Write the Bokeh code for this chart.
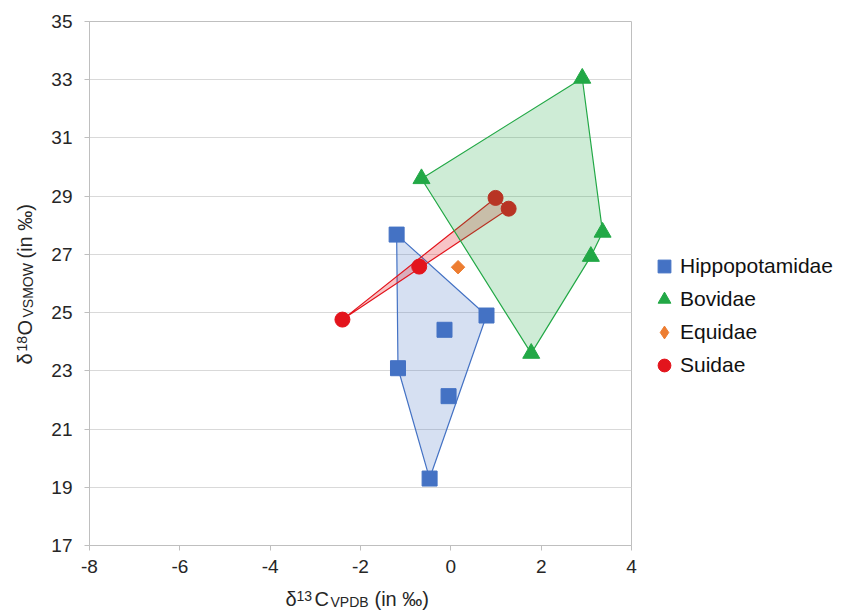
import math
from bokeh.plotting import figure
from bokeh.layouts import column, row
from bokeh.models import FixedTicker, Label, Legend, LegendItem, Range1d
from bokeh.embed import file_html
from bokeh.resources import INLINE

# ---- data ----
hippo_x = [-1.20, 0.79, -0.14, -1.17, -0.05, -0.47]
hippo_y = [27.68, 24.90, 24.41, 23.09, 22.13, 19.30]
bov_x = [-0.65, 2.91, 3.36, 3.10, 1.78]
bov_y = [29.60, 33.05, 27.76, 26.93, 23.60]
equi_x = [0.16]
equi_y = [26.56]
suid_x = [-2.40, -0.70, 0.99, 1.28]
suid_y = [24.76, 26.58, 28.94, 28.57]

x_ticks = [-8, -6, -4, -2, 0, 2, 4]
y_ticks = [17, 19, 21, 23, 25, 27, 29, 31, 33, 35]
labels = ["Hippopotamidae", "Bovidae", "Equidae", "Suidae"]

BLUE = "#4472C4"
GREEN = "#22A846"
ORANGE = "#ED7D31"
RED = "#E3141C"
GRAY = "#BFBFBF"
TXT = "#262626"
FONT = "Liberation Sans"


def hull(xs, ys):
    pts = sorted(set(zip(xs, ys)))

    def cross(o, a, b):
        return (a[0] - o[0]) * (b[1] - o[1]) - (a[1] - o[1]) * (b[0] - o[0])
    lower, upper = [], []
    for q in pts:
        while len(lower) >= 2 and cross(lower[-2], lower[-1], q) <= 0:
            lower.pop()
        lower.append(q)
    for q in reversed(pts):
        while len(upper) >= 2 and cross(upper[-2], upper[-1], q) <= 0:
            upper.pop()
        upper.append(q)
    h = lower[:-1] + upper[:-1]
    return [q[0] for q in h], [q[1] for q in h]


YW = 44          # width of the y-title strip
BOTTOM = 40
MAIN_H = 21 + 524 + BOTTOM
XH = 28          # height of the x-title strip

p = figure(frame_width=542, frame_height=524,
           x_range=(-8, 4), y_range=(17, 35),
           output_backend="svg", toolbar_location=None,
           min_border_left=45, min_border_right=218,
           min_border_top=21, min_border_bottom=BOTTOM,
           background_fill_color="white", border_fill_color="white")

p.outline_line_color = GRAY
p.outline_line_width = 1
p.xgrid.visible = False
p.ygrid.ticker = FixedTicker(ticks=y_ticks)
p.ygrid.grid_line_color = "#D9D9D9"
p.ygrid.grid_line_width = 1

for ax, ticks in ((p.xaxis, x_ticks), (p.yaxis, y_ticks)):
    ax.ticker = FixedTicker(ticks=ticks)
    ax.major_label_overrides = {t: str(t) for t in ticks}
    ax.minor_tick_line_color = None
    ax.major_tick_in = 0
    ax.major_tick_out = 5
    ax.major_tick_line_color = GRAY
    ax.axis_line_color = GRAY
    ax.major_label_text_font = FONT
    ax.major_label_text_font_size = "19px"
    ax.major_label_text_color = TXT
    ax.axis_label = None
    ax.axis_label_standoff = 0
p.yaxis.major_label_standoff = 12
p.xaxis.major_label_standoff = 9

# polygons (convex hulls)
hx, hy = hull(hippo_x, hippo_y)
p.patch(hx, hy, fill_color=BLUE, fill_alpha=0.22, line_color=BLUE, line_width=1.2)
sx, sy = hull(suid_x, suid_y)
p.patch(sx, sy, fill_color=RED, fill_alpha=0.25, line_color=RED, line_width=1.2)

r_hippo = p.scatter(hippo_x, hippo_y, marker="square", size=15, fill_color=BLUE, line_color=BLUE)
r_suid = p.scatter(suid_x, suid_y, marker="circle", size=15, fill_color=RED, line_color=RED)
r_equi_leg = p.scatter(equi_x, equi_y, marker="diamond", size=10,
                       fill_color=ORANGE, line_color=ORANGE)
p.scatter(equi_x, equi_y, marker="square", angle=math.pi / 4, size=9.5,
          fill_color=ORANGE, line_color=ORANGE)

bx, by = hull(bov_x, bov_y)
p.patch(bx, by, fill_color=GREEN, fill_alpha=0.22, line_color=GREEN, line_width=1.2)
r_bov = p.scatter(bov_x, bov_y, marker="triangle", size=17, fill_color=GREEN, line_color=GREEN)

legend = Legend(items=[LegendItem(label=l, renderers=[r]) for l, r in
                       zip(labels, [r_hippo, r_bov, r_equi_leg, r_suid])],
                location=(17, 164), orientation="vertical",
                glyph_width=32, glyph_height=32, label_height=32, spacing=1,
                padding=0, margin=0, label_standoff=-6,
                border_line_color=None, background_fill_alpha=0,
                label_text_font=FONT, label_text_font_size="21px",
                label_text_color="#111111")
p.add_layout(legend, "right")


def strip(w, h):
    f = figure(width=w, height=h, x_range=Range1d(0, 1), y_range=Range1d(0, 1),
               x_axis_type=None, y_axis_type=None, output_backend="svg",
               toolbar_location=None, min_border=0, outline_line_color=None,
               background_fill_color="white", border_fill_color="white")
    f.grid.visible = False
    return f


def piece(f, text, x, y, size, angle=0.0):
    f.add_layout(Label(x=x, y=y, x_units="screen", y_units="screen", text=text,
                       angle=angle, text_font=FONT, text_font_size=size,
                       text_color=TXT, text_align="left",
                       text_baseline="alphabetic"))


total_w = YW + 45 + 542 + 218

# x title strip (page x; baseline measured from strip bottom)
xs_ = strip(total_w, XH)
piece(xs_, "δ", 285, 15, "20px")
piece(xs_, "13", 296, 18, "14px")
piece(xs_, "C", 314, 15, "20px")
piece(xs_, "VPDB", 330, 12, "14px")
piece(xs_, "(in ‰)", 374, 15, "20px")

# y title strip (rotated; its frame is aligned with the main frame: bottom at 545)
ys_ = strip(YW, MAIN_H)
a = math.pi / 2
piece(ys_, "δ", 24, 181, "20px", a)
piece(ys_, "18", 21, 194, "14px", a)
piece(ys_, "O", 24, 210, "20px", a)
piece(ys_, "VSMOW", 27, 228, "14px", a)
piece(ys_, "(in ‰)", 24, 287, "20px", a)

layout = column(row(ys_, p), xs_)
open("out.html", "w").write(file_html(layout, INLINE))
